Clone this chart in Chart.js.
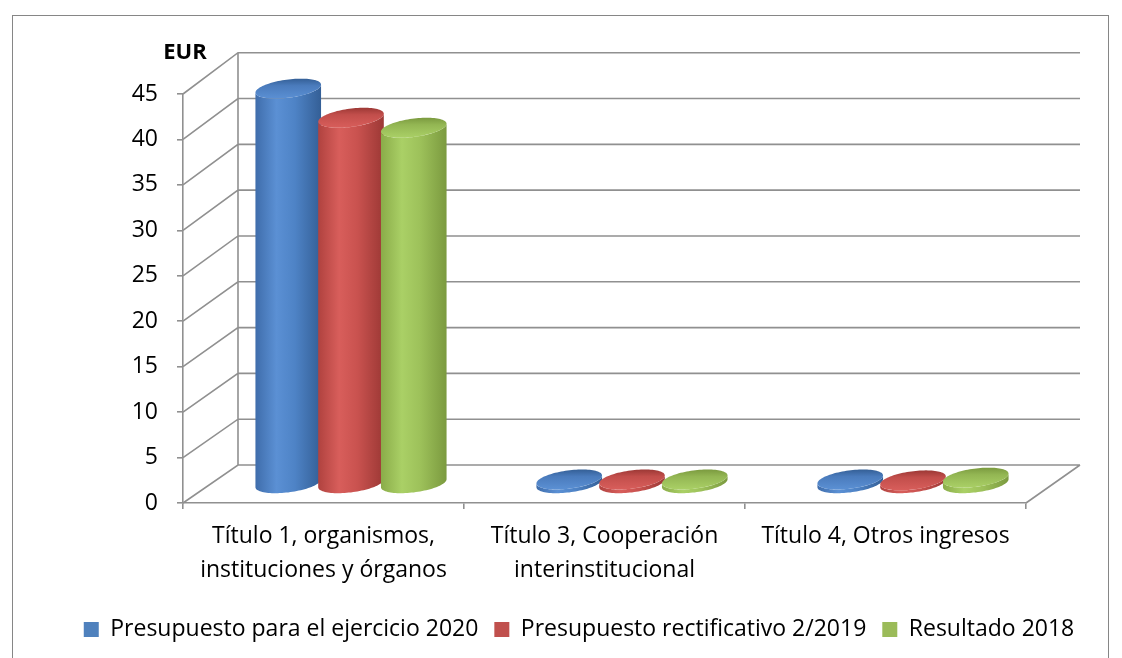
<!DOCTYPE html>
<html>
<head>
<meta charset="utf-8">
<script src="https://cdn.jsdelivr.net/npm/chart.js@4.4.1/dist/chart.umd.min.js"></script>
<style>
  html, body { margin: 0; background: #fff; }
  #wrap { width: 1122px; height: 658px; }
</style>
</head>
<body>
<div id="wrap"><canvas id="chart" width="1122" height="658"></canvas></div>
<script>
// --- data ---
const CATEGORIES = [
  ['Título 1, organismos,', 'instituciones y órganos'],
  ['Título 3, Cooperación', 'interinstitucional'],
  'Título 4, Otros ingresos'
];
const SERIES_NAMES = ['Presupuesto para el ejercicio 2020', 'Presupuesto rectificativo 2/2019', 'Resultado 2018'];
const PRESUPUESTO_2020 = [43.5, 0.5, 0.5];
const RECTIFICATIVO_2019 = [40.3, 0.5, 0.4];
const RESULTADO_2018 = [39.2, 0.5, 0.7];
const Y_TICKS = [0, 5, 10, 15, 20, 25, 30, 35, 40, 45];
const UNIT_LABEL = 'EUR';

const FONT = "'Open Sans'";
const FONT_SIZE = 23;
const GRID = '#909090';
const DEPTH_X = 55, DEPTH_Y = -38, BACK_STRETCH = 1.008;

// Excel 2007 style colours: legend swatch + cylinder shading
const SHADES = [
  { base: '#4F81BD', top: '#4a7bbc', body: [[0, '#3f6dab'], [0.32, '#5b90d4'], [0.6, '#4e83c6'], [1, '#345f96']] },
  { base: '#C0504D', top: '#c24e4b', body: [[0, '#b0423f'], [0.32, '#d85e5b'], [0.6, '#c9524f'], [1, '#9c3835']] },
  { base: '#9BBB59', top: '#93b653', body: [[0, '#8aac49'], [0.32, '#aad066'], [0.6, '#9dc15a'], [1, '#7b9a3f']] }
];

function drawCylinder(ctx, bar, shade) {
  const half = bar.width / 2 * 0.96;
  const cx = bar.x + DEPTH_X / 2;
  const yt = bar.y + DEPTH_Y / 2, yb = bar.base + DEPTH_Y / 2;
  const ex = 13, ey = -10;
  const P = (yc, t) => [cx + half * Math.cos(t) + ex * Math.sin(t), yc + ey * Math.sin(t)];
  const tL = Math.atan2(ex, half) + Math.PI;
  const reach = Math.hypot(half, ex);
  const N = 48;

  ctx.beginPath();
  for (let k = 0; k <= N; k++) {
    const [px, py] = P(yb, tL + Math.PI * k / N);
    k ? ctx.lineTo(px, py) : ctx.moveTo(px, py);
  }
  for (let k = N; k >= 0; k--) {
    const [px, py] = P(yt, tL + Math.PI * k / N);
    ctx.lineTo(px, py);
  }
  ctx.closePath();
  const g = ctx.createLinearGradient(cx - reach, 0, cx + reach, 0);
  shade.body.forEach(([o, c]) => g.addColorStop(o, c));
  ctx.fillStyle = g;
  ctx.fill();

  ctx.beginPath();
  for (let k = 0; k <= 2 * N; k++) {
    const [px, py] = P(yt, Math.PI * k / N);
    k ? ctx.lineTo(px, py) : ctx.moveTo(px, py);
  }
  ctx.closePath();
  const gt = ctx.createLinearGradient(0, yt + ey, 0, yt - ey);
  gt.addColorStop(0, shade.body[3][1]);
  gt.addColorStop(0.35, shade.top);
  gt.addColorStop(1, shade.body[1][1]);
  ctx.fillStyle = gt;
  ctx.fill();
}

const frame3d = {
  id: 'frame3d',
  beforeDraw(chart) {
    const ctx = chart.ctx;
    ctx.save();
    ctx.strokeStyle = '#868686';
    ctx.lineWidth = 1;
    ctx.strokeRect(12.5, 15.5, 1096, 700);
    ctx.restore();
  },
  beforeDatasetsDraw(chart) {
    const { ctx, chartArea: a, scales: { y } } = chart;
    const y0 = y.getPixelForValue(0);
    const back = v => y0 + DEPTH_Y - (y0 - y.getPixelForValue(v)) * BACK_STRETCH;
    ctx.save();
    ctx.strokeStyle = GRID;
    ctx.lineWidth = 1.6;
    ctx.beginPath();
    y.ticks.forEach(t => {
      const fy = y.getPixelForValue(t.value), by = back(t.value);
      ctx.moveTo(a.left, fy);
      ctx.lineTo(a.left + DEPTH_X, by);
      ctx.lineTo(a.right + DEPTH_X - 1, by);
    });
    ctx.moveTo(a.left + DEPTH_X, back(0));
    ctx.lineTo(a.left + DEPTH_X, back(y.max));
    ctx.moveTo(a.right, y0);
    ctx.lineTo(a.right + DEPTH_X - 1, back(0));
    ctx.stroke();

    chart.data.datasets.forEach((ds, i) => {
      chart.getDatasetMeta(i).data.forEach(bar => drawCylinder(ctx, bar, SHADES[i]));
    });
    ctx.restore();
    return false;
  },
  afterDraw(chart) {
    const ctx = chart.ctx;
    ctx.save();
    ctx.font = `bold ${FONT_SIZE - 1}px ${FONT}`;
    ctx.fillStyle = '#000';
    ctx.textAlign = 'center';
    ctx.textBaseline = 'middle';
    ctx.fillText(UNIT_LABEL, 185, 53);
    ctx.restore();
  }
};

const seriesValues = [PRESUPUESTO_2020, RECTIFICATIVO_2019, RESULTADO_2018];
const tickFont = { family: FONT, size: FONT_SIZE };

new Chart(document.getElementById('chart'), {
  type: 'bar',
  data: {
    labels: CATEGORIES,
    datasets: seriesValues.map((vals, i) => ({
      label: SERIES_NAMES[i],
      data: vals,
      backgroundColor: SHADES[i].base,
      borderWidth: 0,
      categoryPercentage: 0.67,
      barPercentage: 1.0
    }))
  },
  options: {
    responsive: false,
    animation: false,
    layout: { padding: { left: 36, right: 0, top: 94, bottom: 7 } },
    scales: {
      x: {
        grid: { drawOnChartArea: false, offset: true, tickLength: 6, color: GRID, lineWidth: 1.6 },
        border: { color: GRID, width: 1.6 },
        ticks: { color: '#000', padding: 11, maxRotation: 0, font: { ...tickFont, lineHeight: 1.45 } },
        afterFit: s => { s.height = 99; }
      },
      y: {
        min: 0,
        max: Y_TICKS[Y_TICKS.length - 1],
        afterBuildTicks: s => { s.ticks = Y_TICKS.map(v => ({ value: v })); },
        grid: { drawOnChartArea: false, tickLength: 6, color: GRID, lineWidth: 1.6 },
        border: { color: GRID, width: 1.6 },
        ticks: { color: '#000', padding: 19, font: tickFont },
        afterFit: s => { s.width = 147; }
      },
      // empty right-hand band that leaves room for the receding back wall
      depth: {
        type: 'linear',
        position: 'right',
        grid: { display: false },
        border: { display: false },
        ticks: { display: false },
        afterFit: s => { s.width = 96; }
      }
    },
    plugins: {
      legend: {
        position: 'bottom',
        labels: { color: '#000', boxWidth: 15, boxHeight: 15, padding: 16, font: tickFont }
      },
      tooltip: { enabled: false }
    }
  },
  plugins: [frame3d]
});
</script>
</body>
</html>
